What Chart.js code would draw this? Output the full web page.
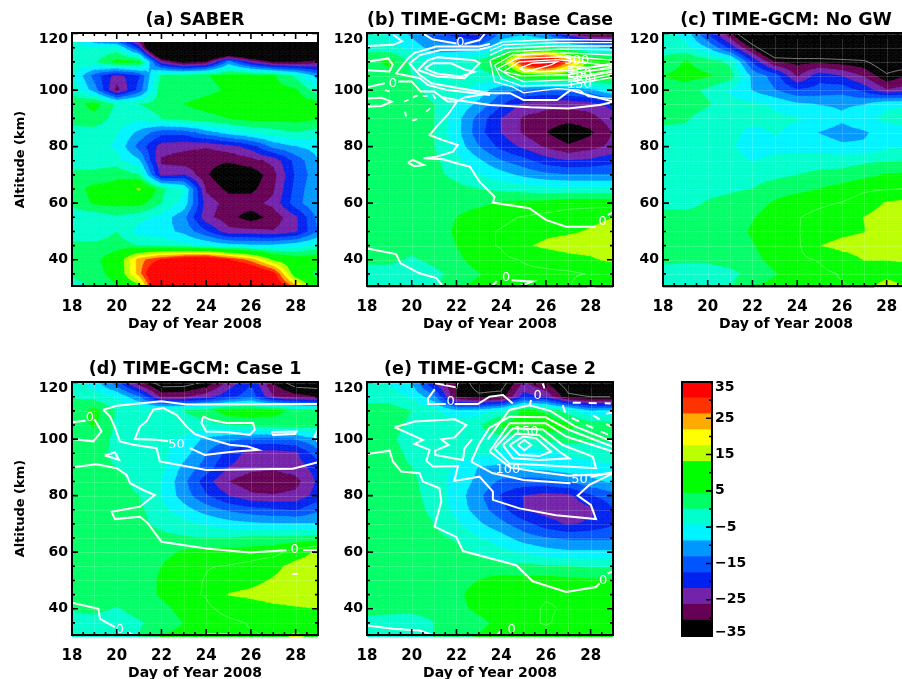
<!DOCTYPE html>
<html>
<head>
<meta charset="utf-8">
<title>Temperature anomaly panels</title>
<script src="https://cdn.jsdelivr.net/npm/chart.js@4"></script>
<style>
    html, body { margin: 0; padding: 0; background: #fff; overflow: hidden; }
    #page { position: relative; width: 902px; height: 679px; overflow: hidden; }
    canvas { position: absolute; }
</style>
</head>
<body>
<div id="page"></div>
<script>
// Axes
const days = [18, 19, 20, 21, 22, 23, 24, 25, 26, 27, 28, 29];
const altitudes = [120, 115, 110, 105, 100, 95, 90, 85, 80, 75, 70, 65, 60, 55, 50, 45, 40, 35, 30];
const saberAltitudes = [117, 115, 110, 105, 100, 95, 90, 85, 80, 75, 70, 65, 60, 55, 50, 45, 40, 35, 31];
const dayTicks = [18, 20, 22, 24, 26, 28];
const dayMinorTicks = [18.5, 19, 19.5, 20.5, 21, 21.5, 22.5, 23, 23.5, 24.5, 25, 25.5, 26.5, 27, 27.5, 28.5];
const altTicks = [40, 60, 80, 100, 120];
const altMinorTicks = [35, 45, 50, 55, 65, 70, 75, 85, 90, 95, 105, 110, 115];

// Colour bar
const bandEdges = [-35, -30.625, -26.25, -21.875, -17.5, -13.125, -8.75, -4.375, 0, 4.375, 8.75, 13.125, 17.5, 21.875, 26.25, 30.625, 35];
const bandColors = ['#000000', '#660055', '#7322aa', '#0022ee', '#0055ff', '#0098ff', '#00f4ff', '#00ffcc', '#00ff66', '#00ff00', '#00ff00', '#bbff00', '#ffff00', '#ffaa00', '#ff3300', '#ff0000'];
const barTicks = [35, 25, 15, 5, -5, -15, -25, -35];
const barMinorTicks = [30, 20, 10, 0, -10, -20, -30];

// Temperature values, one row per altitude, one column per day
const saberValues = [
    [-3, -10, -13, -27, -45, -45, -45, -45, -45, -45, -45, -45],
    [-3, -4, -3, -20, -60, -60, -60, -60, -60, -60, -60, -60],
    [-2, -1, 6, 5, -25, -34, -31, -12, -24, -32, -32, -28],
    [-3, -15, -24, -18, 1, 2, 4, 6, 6, 5, -1, -11],
    [-1, -11, -28, -16, 3, 2, 3, 5, 7, 6, 5, -3],
    [2, 6, -1, 0, 2, 4.4, 6, 7, 7, 7, 7, 6],
    [2, 3, -2, -3, 0, 2, 3, 4.4, 6, 6, 6, 5],
    [-2, -2, -4, -10, -16, -16, -11, -7, -4, -2, 0, -2],
    [-3, -3, -5, -15, -24, -25, -26, -24, -20, -12, -9, -7],
    [-2, -2, -3, -8, -27, -29, -29, -30, -28, -25, -16, -9],
    [1, 1, 3.5, 0, -24, -22, -30, -35, -34, -28, -17, -10],
    [2, 6, 6, 14, 1, -4, -27, -32, -32, -27, -16, -9],
    [1, 5, 6, 6, 0, -6, -24, -28, -28, -25, -15, -9],
    [-3, -3, -1, -3, -6, -12, -25, -29, -33, -29, -23, -12],
    [-3, -3, 0, -6, -7, -10, -17, -25, -25, -26, -23, -13],
    [1, 1, 2, 0, -1, -3, -5, -7, -8, -8, -6, -3],
    [2, 3, 8, 24, 31, 36, 38, 31, 24, 12, 7, 8],
    [1, 2, 7, 24, 45, 45, 45, 45, 42, 33, 8, 3],
    [-2, 1, 4, 13, 45, 45, 45, 45, 45, 38, 22, 5]
];
const baseValues = [
    [-3, -5, -10, -16, -20, -24, -12, -10, -14, -26, -33, -32],
    [-1, -3, -6, -11, -11, -11, -5, 0, 0, -2, -8, -10],
    [2, 6, -1, -5, -4, 1, 8, 35, 45, 26, 10, 7],
    [1, 2, 0, -3, -3, -2, 0, 8, 8, 8, 7, 6],
    [1, 1, 1, -1, -3, -6, -12, -13, -14, -13, -10, -4],
    [1, 1, 1, 0, -5, -10, -17, -23, -25, -25, -24, -20],
    [1, 1, 1, 0, -7, -15, -22, -27, -28, -29, -28, -24],
    [1, 1, 1, 0, -7, -16, -22, -27, -30.6, -34, -31.5, -26],
    [1, 1, 1, 0, -6, -13, -19, -23, -27, -30, -28, -25],
    [1, 1, 1, 1, -3, -8, -13, -16, -20, -21.9, -21, -19],
    [1, 1, 1, 1, -1, -4, -7, -10, -12, -13, -13, -13],
    [1.5, 1.5, 1.5, 2, 1, 0, -1, -2, -3, -3, -3, -3],
    [1.5, 1.5, 1.5, 1.5, 2, 3, 5, 5.5, 6, 7, 7, 7],
    [1.5, 1.5, 1.5, 1.5, 4.4, 7, 8, 9, 10, 11, 12, 13],
    [2, 2, 2, 2, 5, 8, 9, 10, 12, 12.5, 13.5, 15],
    [1, 1, 1, 2, 4.4, 8, 9, 12.5, 14, 15, 15, 16],
    [1, 1, -0.5, 1, 3, 7, 8, 9, 10, 11.5, 12.5, 14],
    [-2, -2, -3, -1, 1, 4, 7, 8, 8, 8, 9, 9],
    [-3, -3, -3, -1, 4, 6, 7, 8, 8, 8, 14, 10]
];
const noGwValues = [
    [-3, -6, -18, -30, -45, -45, -45, -45, -45, -45, -45, -45],
    [-2, -3, -9, -19, -32, -45, -45, -45, -45, -45, -45, -45],
    [1, 4.8, 2, -1, -18, -31, -32, -32, -33, -34, -40, -40],
    [4.4, 6, 5, 2, -10, -15, -27, -19, -22, -27, -34, -30],
    [2, 2, -1, -5, -9, -13, -17, -16, -15, -19, -26, -24],
    [2, 2, 0.5, -3, -3.5, -5, -8, -9, -9.5, -9, -5, -4.6],
    [1, 0.5, -2, -3, -3, -3.5, -4, -5.5, -8, -5, -3.5, -3.5],
    [-1, -1, -2, -3, -5.5, -4, -5.5, -9, -10.5, -9.5, -6, -5],
    [-2, -2, -2.5, -3.5, -7, -6, -6, -6.5, -8, -8, -5, -4.6],
    [-2, -2, -2, -2.5, -4.6, -3, -2.5, -2, -2, -1, -0.2, 0],
    [-2, -2, -2, -2, -1.5, -1, 0, 1, 1.5, 3, 4.8, 5],
    [-2, -2, -1, -0.5, 0, 2, 3, 4.4, 6, 8, 8.5, 9],
    [-1, -1, 0.3, 1, 2, 5, 7, 8, 9, 11, 13.5, 14.5],
    [1, 1, 1, 2, 4, 7, 8.5, 10, 11, 13.2, 15, 16],
    [2, 2, 2, 2, 5, 7.5, 8.5, 10.5, 12, 13, 15, 16],
    [2, 2, 1, 2, 4, 7, 8, 13, 14.5, 15, 16, 16],
    [1, 0.5, 0.5, 1.5, 3, 6, 8, 9, 11, 13.3, 13.3, 14],
    [-2, -2, -1.5, -1, 1, 4, 7, 8, 9, 9.5, 9.5, 9.5],
    [-3, -3, -3, -0.5, 5, 6, 7, 8, 8.5, 9, 18, 12]
];
const case1Values = [
    [-2, -7, -16, -30, -38, -38, -34, -25, -18, -31, -38, -38],
    [0, -2, -5, -13, -28, -27, -24, -19, -15, -26, -29, -31],
    [1, 6, -0.5, -1, -1, 0, 2.5, 7, 7, 6, 3, 2],
    [2, 5, -1, -2, -2, -2, -1.5, 0, 1, 2, 2, 1.5],
    [2, 2, -1, -3, -3, -5, -10, -12, -14, -14.5, -13, -9],
    [2, 1.5, -1, -2, -3, -7, -13, -19, -24, -24, -23, -15],
    [2, 1, 0, -1.5, -3, -10, -15, -22, -25, -25.5, -24, -20],
    [2, 1.5, 1, -1, -4.5, -12, -20, -26.4, -29, -29.5, -28, -21],
    [2, 2, 1, 0, -4.5, -11, -17, -22, -25.5, -26, -25, -20],
    [2, 2, 2, 1, -3, -7, -11, -14, -16, -17, -18, -14],
    [2, 2, 2, 1, -1, -3, -5, -7, -8, -8.5, -8.5, -8.5],
    [2, 2, 2, 1.5, 1, 0.5, 0, 0, 1, 1, 1, 2],
    [2, 2, 2, 2, 3, 5, 6, 6, 6.5, 7, 11, 14],
    [2, 2, 2, 2, 4.4, 7, 8.5, 9, 10, 12, 14.5, 15],
    [2, 2, 2, 2, 5, 7.5, 9, 11, 12, 13.5, 15, 16],
    [2, 2, 2, 2, 5, 8, 9, 13.3, 14, 15, 16, 16],
    [0.5, 1, -0.3, 1.5, 3, 6, 8, 10, 11, 12, 12.5, 13.2],
    [-2, -1.5, -2, -0.5, 1.5, 4.5, 7, 8, 9, 9, 9, 9],
    [-3, -3, -2, 0, 5, 6, 7, 8, 8.5, 9, 15, 10]
];
const case2Values = [
    [-3, -5, -9, -23, -31, -38, -38, -26, -31, -38, -40, -40],
    [-1, -2, -5, -12, -31, -34, -33, -20, -23, -34, -35, -35],
    [1, 2, 0, -3, -8, -7, -3, 5.5, 3.5, -2, -9, -8],
    [2, 2, -1, -1.5, -1.5, -0.5, 5, 7, 7, 5.5, 3, 2],
    [2, 1, -2, -3, -3, -2, -2, -3, 1, 2, 1, 0.5],
    [2, 1.5, -1, -3, -3, -3, -5, -6, -5.5, -4, -3, -2],
    [2, 1.5, 0, -2, -5, -9, -10, -8, -7, -6, -6, -5],
    [2, 2, 1, -2.5, -6, -10, -14, -15, -15, -13, -10, -8],
    [2, 2, 1, -1.5, -6.5, -12, -18, -22, -23.5, -23, -18, -15],
    [2, 2, 1.5, -1, -6, -11, -16, -22, -24, -25, -23, -18],
    [2, 2, 2, 0, -3.5, -8, -12, -16, -20, -22.5, -21, -18],
    [2, 2, 2, 1, -0.5, -4, -7, -11, -13, -14, -14, -14],
    [2, 2, 2, 2, 1, -0.5, -3, -5, -7, -8, -8, -8],
    [2, 2, 2, 2, 2, 2, 1.5, 1, 0.5, 0, -0.5, -0.5],
    [2, 2, 2, 2, 3, 4.4, 6, 6, 6, 5.5, 5, 5],
    [2, 2, 2, 2, 3.5, 6, 7, 8, 8.5, 8.5, 8, 7.5],
    [1, 1, 1, 1.5, 3, 5.5, 7, 8, 9, 8.5, 8, 7.5],
    [-1, -1.5, -2, 0, 1, 3, 6, 8, 9, 8, 8, 8],
    [-3, -3, -2.5, 0, 2, 5, 6, 7, 7.5, 7, 7, 7]
];

// White wind contours as [day, altitude] vertices
const baseLines = [
    [[20.55, 119.8], [20.95, 117.9], [22, 116.5]],
    [[22.36, 116.3], [23.03, 117.7], [23.26, 119.8]],
    [[19.17, 119.6], [19.57, 117.3], [19.17, 116], [18, 115.6]],
    [[18, 110], [18.95, 111.2], [19.15, 109], [19, 106.6], [18, 107]],
    [[18, 101], [18.8, 102.4]],
    [[19.4, 103], [20, 103], [20.4, 99.5], [21, 99.5], [21.6, 96], [22, 96], [22.4, 97.5], [23.5, 98.9]],
    [[18, 97], [18.65, 97.3], [19.1, 95.9], [18.65, 94.4], [18, 94.1]],
    [[20.58, 107.7], [20.95, 109.5], [21.77, 109.5], [22.36, 107.3], [22.81, 106.5], [22.2, 104.8], [21.1, 105.9], [20.58, 107.7]],
    [[20.28, 107.1], [20.73, 110.6], [21.17, 111.6], [22.81, 110.6], [23.03, 109.5], [22.36, 104.2], [21.1, 104.8], [20.28, 107.1]],
    [[23.5, 115.3], [23.03, 114.4], [21.3, 114.2], [20.36, 112.4], [19.9, 109.4], [20.36, 105.3], [20.88, 102.4], [22.2, 100.6], [23.5, 98.9]],
    [[23.5, 116.3], [23.03, 115.4], [21.1, 115.4], [20.13, 113.2], [19.83, 111.2], [19.3, 105.9], [20.36, 104.2], [20.73, 101.8], [21.6, 100], [23.5, 98.3]],
    [[21.4, 97.5], [22, 96.5], [23.5, 94.7], [25.3, 93.9], [27, 93.5], [28.4, 94.7], [29, 95.8]],
    [[22.06, 96.5], [21.87, 94.1], [21.6, 91.2], [21.17, 87.6], [20.8, 84.1], [21.39, 82.3], [22.06, 80.6], [21.84, 78.2], [21.1, 76.4], [20.53, 75.9], [21.4, 75.5], [22, 74.1], [22.6, 72.9], [23.03, 67.6], [23.7, 62.3], [23.63, 60.2], [25.26, 58.2], [26, 54.1], [26.9, 51.7], [28.24, 51.7]],
    [[28.76, 55.8], [29, 56.7]],
    [[19.83, 74.3], [20.05, 75.3], [20.53, 73.5], [20.13, 73.1], [19.83, 74.3]],
    [[18, 44], [19.3, 42], [19.5, 38.7], [20.35, 35.2], [21.1, 33.5], [21.4, 30.5]],
    [[23.55, 30], [23.8, 32.5]],
    [[24.45, 32.7], [25.4, 32.3], [24.7, 30.3]],
    [[23.5, 98.9], [24.4, 98.9], [25, 96.5], [26.5, 96.5], [27.1, 100], [28, 98], [29, 96]]
];
const baseThinLines = [
    [[23.5, 115.3], [24.1, 117.1], [26.5, 117.9], [29, 117.7]],
    [[23.5, 114], [24.1, 116], [26.5, 116.8], [29, 116.8]],
    [[23.5, 112.4], [24.2, 114.8], [26.5, 115.6], [29, 115.6]],
    [[23.5, 110.6], [24.4, 113.6], [26.7, 114.5], [29, 114.2]],
    [[23.7, 108.8], [24.5, 112.4], [26.9, 113.2], [29, 112.4]],
    [[23.85, 107.6], [24.7, 111.2], [27, 111.8], [29, 110.6]],
    [[24.1, 106.5], [24.8, 110], [26.5, 110.8], [28, 109.5], [29, 108.3]],
    [[24.8, 107.7], [25.4, 109.5], [26.5, 110], [26.2, 108.8], [25.1, 106.5], [24.8, 107.7]],
    [[23.85, 107.6], [24.4, 105], [25, 103], [27, 103.6], [29, 106.5]],
    [[24.1, 106.5], [24.9, 105], [27, 105.5], [29, 108.3]],
    [[24.8, 107.7], [25.6, 106.5], [27.2, 107], [29, 109.5]],
    [[23.7, 108.8], [24, 104], [24.9, 101.5], [27, 101.8], [29, 104.5]],
    [[23.5, 110.6], [23.7, 103], [24.5, 101.2], [25, 99], [26.5, 100.5], [27.5, 100], [27.9, 97.7], [29, 97]],
    [[27, 108.3], [28, 108], [29, 109]],
    [[27, 106.3], [28, 106.8], [29, 107.7]],
    [[27, 104.3], [28, 105.5], [29, 107]],
    [[27, 103], [28, 104], [29, 105.7]]
];
const baseDashes = [
    [[18.8, 100], [19.1, 99.4]],
    [[19.66, 95.9], [19.98, 97.1], [20.2, 98], [20.6, 97.9], [20.95, 98.3], [21.1, 96.5]],
    [[19.7, 92.4], [19.76, 90]],
    [[20.03, 89.2], [20.35, 90]],
    [[20.65, 92.4], [20.88, 93.9]]
];
const baseTexts = [
    ['0', 19.16, 102.4], ['0', 22.18, 116.8], ['0', 28.54, 53.5], ['0', 24.22, 33.5],
    ['300', 27.38, 110.6], ['250', 27.5, 106], ['200', 27.7, 104], ['150', 27.5, 102]
];

const case1Lines = [
    [[19.4, 110.4], [20, 111.8], [22, 113.4], [23.12, 112.2], [29, 112.4]],
    [[19.4, 110.4], [19.7, 108], [19.9, 104.5], [20.14, 99.2], [20.74, 98], [21.78, 96.8], [21.93, 92.1], [24, 89.1], [27.88, 89.5], [29, 91.8]],
    [[18, 106], [18.6, 106.5]],
    [[19, 107], [19.32, 102.7], [18.95, 99.2], [18, 100]],
    [[18, 90], [19.1, 91.1], [20, 89.7], [20.44, 87.3], [20.6, 84.4], [21.18, 82], [21.7, 80.2], [21.04, 76.1], [19.77, 74.3], [19.92, 71.7], [21.04, 72.5], [21.4, 70.2], [21.78, 66], [22, 63.7], [24, 61.3], [25.95, 59.9], [27.58, 60.7]],
    [[28.33, 60.7], [29, 60.7]],
    [[19.47, 94.2], [19.92, 95.3], [20.1, 92.7], [19.47, 94.2]],
    [[22.3, 99.2], [21.78, 99.8], [20.81, 100], [21.04, 104.5], [21.33, 106.3], [21.63, 110.4], [22.08, 111], [22.67, 108.6], [23.12, 104.5], [23.49, 101.8], [24, 100.4], [25.05, 98], [25.87, 97.4], [26.32, 96.2], [25.05, 95.4], [23.94, 94.4], [23.27, 96.8]],
    [[23.86, 108], [24.16, 106.9], [24.9, 105.7], [26.1, 105.7], [26.17, 103.3], [25.95, 101.5], [24.9, 102.5], [24, 102.7], [23.79, 105.7], [23.86, 108]],
    [[26.91, 102.5], [28.03, 102.7], [27.96, 101.8], [26.99, 101.5], [26.91, 102.5]],
    [[29, 103.3], [28.85, 101], [29, 98.9]],
    [[18, 42.1], [19.18, 40], [19.25, 36.4], [19.92, 33.5]],
    [[20.51, 31.7], [20.81, 30.3]],
    [[24, 30.9], [25.1, 30.9]],
    [[27.85, 52.3], [28.1, 52.3]]
];
const case1Texts = [['0', 18.8, 107.5], ['50', 22.67, 98.2], ['0', 27.96, 60.9], ['0', 20.14, 32.6]];

const case2Lines = [
    [[20.95, 119.9], [22, 118.3], [22.05, 119.9]],
    [[21.03, 117.6], [20.73, 114.4], [20.73, 112.4], [21.52, 112.4]],
    [[21.92, 112.4], [22.96, 112.4], [23.48, 115], [24.08, 115.6], [24.52, 112.6]],
    [[25.27, 112], [25.34, 113.8]],
    [[25.94, 117.9], [25.86, 119.7]],
    [[19.24, 104.2], [20.13, 106.2], [21.92, 107], [22.44, 105], [21.92, 100.6], [21.32, 99.9], [21.65, 97.9], [21.05, 95.9], [21.05, 94.4], [22.29, 92.6], [22.36, 96.7], [22.7, 100]],
    [[19.24, 104.2], [20.5, 99.7], [20.13, 98.3], [20.8, 96.2], [20.65, 92.3], [20.95, 90.3], [22.07, 90.5], [21.93, 86.1], [21.91, 85.2], [23.03, 86.7], [23.63, 81.4], [23.63, 78.5], [24.82, 75.5], [26.45, 73.1], [28.24, 71.7], [28.01, 76.7], [27.42, 80], [27.94, 83.8], [29, 87.9]],
    [[18, 94.7], [19.01, 95.9], [19.16, 92.1], [19.53, 88.5], [20.35, 87.9], [20.5, 85], [21.24, 82.6], [21.32, 77.9], [21.02, 69], [21.99, 65.4], [22.29, 60.4], [24.67, 55.4], [25.41, 49.7], [26.9, 45.9], [28.24, 47.7], [28.4, 49]],
    [[28.76, 52.4], [29, 53.3]],
    [[24.74, 97.9], [25.04, 99.7], [25.34, 97.9], [25.04, 96.1], [24.74, 97.9]],
    [[24.37, 97.9], [24.97, 100.9], [25.56, 100.3], [26.23, 95.6], [25.71, 94], [24.82, 94.4], [24.37, 97.9]],
    [[24.08, 97.9], [24.67, 102], [25.71, 101.4], [26.6, 95.6], [27.05, 93.2], [25.71, 92.6], [24.52, 93.2], [24.08, 97.9]],
    [[23.7, 96.7], [24.52, 103.8], [25.86, 103.4], [26.75, 97.9], [28.1, 93.8], [28.24, 89.7], [25.71, 90.8], [24.37, 91.4], [23.7, 96.7]],
    [[23.48, 95.6], [24.37, 105.6], [25.99, 105.6], [26.9, 100.9], [29, 95.6]],
    [[23.48, 95.6], [24.4, 90], [25.5, 88.5], [27, 87], [28.3, 87.5], [29, 88]],
    [[22.66, 92], [23.03, 98.5], [23.48, 104], [24.37, 107.9], [25.99, 107.7], [27.05, 103.2], [29, 97.3]],
    [[22.66, 92], [23.6, 88], [25, 85.5], [27.1, 84.4]],
    [[28, 86.6], [29, 88.3]],
    [[23.4, 100], [24.37, 110.3], [25.27, 112], [26.2, 110], [27.3, 104.5], [29, 99]],
    [[18, 34.1], [19.16, 32.9], [20.35, 32.3], [21.1, 30.3]],
    [[23.77, 30.3], [24, 32.3]],
    [[24.82, 30.8], [25.33, 30.3]]
];
const case2Dashes = [
    [[27.2, 112.9], [28.9, 112.6]],
    [[26.75, 112], [26.85, 109.7], [27.2, 107.3], [27.8, 105], [28.8, 101.5]],
    [[28.1, 108.5], [28.9, 104.4]],
    [[28.7, 109], [29, 109.5]]
];
const case2Texts = [
    ['0', 21.74, 113.2], ['0', 25.63, 115.5], ['0', 28.56, 49.8], ['0', 24.47, 32.6],
    ['150', 25.12, 102.6], ['100', 24.3, 89.1], ['50', 27.5, 85.6]
];

const uiFont = '"DejaVu Sans", sans-serif';
const page = document.getElementById('page');
const SUBCELLS = 4;

// Clip a polygon of {x, y, v} corners against one value limit
function clipByValue(pts, limit, keepAbove) {
    const out = [];
    pts.forEach((p, i) => {
        const q = pts[(i + 1) % pts.length];
        const pIn = keepAbove ? p.v >= limit : p.v <= limit;
        const qIn = keepAbove ? q.v >= limit : q.v <= limit;
        if (pIn) out.push(p);
        if (pIn !== qIn) {
            const t = (limit - p.v) / (q.v - p.v);
            out.push({ x: p.x + (q.x - p.x) * t, y: p.y + (q.y - p.y) * t, v: limit });
        }
    });
    return out;
}

function fillBands(ctx, tri) {
    bandColors.forEach((color, b) => {
        let poly = tri;
        if (b > 0) poly = clipByValue(poly, bandEdges[b], true);
        if (poly.length && b < bandColors.length - 1) poly = clipByValue(poly, bandEdges[b + 1], false);
        if (poly.length < 3) return;
        ctx.beginPath();
        poly.forEach((p, i) => i ? ctx.lineTo(p.x, p.y) : ctx.moveTo(p.x, p.y));
        ctx.closePath();
        ctx.fillStyle = color;
        ctx.strokeStyle = color;
        ctx.lineWidth = 0.6;
        ctx.fill();
        ctx.stroke();
    });
}

// Thin line where a triangle crosses one level
function traceLevel(ctx, tri, level) {
    const hits = [];
    tri.forEach((p, i) => {
        const q = tri[(i + 1) % 3];
        if ((p.v < level) !== (q.v < level)) {
            const t = (level - p.v) / (q.v - p.v);
            hits.push([p.x + (q.x - p.x) * t, p.y + (q.y - p.y) * t]);
        }
    });
    if (hits.length === 2) {
        ctx.moveTo(hits[0][0], hits[0][1]);
        ctx.lineTo(hits[1][0], hits[1][1]);
    }
}

// Filled contours drawn from the value grid through the chart's scales
const contourPlugin = {
    id: 'contourFill',
    beforeDatasetsDraw(chart, args, opts) {
        if (!opts.values) return;
        const { ctx, chartArea, scales: { x, y } } = chart;
        const rows = opts.rows;
        const tris = [];
        for (let r = 0; r < rows.length - 1; r++) {
            for (let c = 0; c < days.length - 1; c++) {
                const x0 = x.getPixelForValue(days[c]), x1 = x.getPixelForValue(days[c + 1]);
                const y0 = y.getPixelForValue(rows[r]), y1 = y.getPixelForValue(rows[r + 1]);
                const v = opts.values;
                // smooth shading inside the cell, for the drawing only
                const at = (i, j) => {
                    const s = i / SUBCELLS, t = j / SUBCELLS;
                    return {
                        x: x0 + (x1 - x0) * s,
                        y: y0 + (y1 - y0) * t,
                        v: (1 - t) * ((1 - s) * v[r][c] + s * v[r][c + 1]) + t * ((1 - s) * v[r + 1][c] + s * v[r + 1][c + 1])
                    };
                };
                for (let i = 0; i < SUBCELLS; i++) {
                    for (let j = 0; j < SUBCELLS; j++) {
                        const a = at(i, j), b = at(i + 1, j), d = at(i + 1, j + 1), e = at(i, j + 1);
                        tris.push([a, b, d], [a, d, e]);
                    }
                }
            }
        }
        ctx.save();
        ctx.beginPath();
        const top = y.getPixelForValue(rows[0]), bottom = y.getPixelForValue(rows[rows.length - 1]);
        ctx.rect(chartArea.left, top, chartArea.width, bottom - top);
        ctx.clip();
        tris.forEach(t => fillBands(ctx, t));

        // faint seams of the original plot
        if (opts.seams) {
            ctx.strokeStyle = 'rgba(255,255,255,0.16)';
            ctx.lineWidth = 1;
            ctx.beginPath();
            days.forEach(d => {
                const px = Math.round(x.getPixelForValue(d)) + 0.5;
                ctx.moveTo(px, chartArea.top);
                ctx.lineTo(px, chartArea.bottom);
            });
            rows.forEach(a => {
                const py = Math.round(y.getPixelForValue(a)) + 0.5;
                ctx.moveTo(chartArea.left, py);
                ctx.lineTo(chartArea.right, py);
            });
            ctx.stroke();
            ctx.strokeStyle = 'rgba(255,255,255,0.3)';
            ctx.beginPath();
            tris.forEach(t => traceLevel(ctx, t, 8.75));
            ctx.stroke();
            ctx.strokeStyle = 'rgba(170,170,170,0.7)';
            ctx.beginPath();
            tris.forEach(t => traceLevel(ctx, t, -35));
            ctx.stroke();
        }
        ctx.restore();
    },
    afterDatasetsDraw(chart, args, opts) {
        if (!opts.values) return;
        const { ctx, scales: { x, y } } = chart;
        ctx.save();
        ctx.fillStyle = '#fff';
        ctx.font = '13px ' + uiFont;
        ctx.textAlign = 'center';
        ctx.textBaseline = 'middle';
        (opts.texts || []).forEach(t => ctx.fillText(t[0], x.getPixelForValue(t[1]), y.getPixelForValue(t[2])));
        ctx.restore();
    }
};

// Box and inward tick marks on all four sides
const framePlugin = {
    id: 'plotFrame',
    afterDraw(chart, args, opts) {
        const { ctx, chartArea: a, scales: { x, y } } = chart;
        ctx.save();
        ctx.strokeStyle = '#000';
        ctx.lineWidth = 1.6;
        ctx.beginPath();
        const vTick = (v, len) => {
            const py = y.getPixelForValue(v);
            if (opts.leftTicks !== false) { ctx.moveTo(a.left, py); ctx.lineTo(a.left + len, py); }
            ctx.moveTo(a.right, py); ctx.lineTo(a.right - len, py);
        };
        const hTick = (v, len) => {
            const px = x.getPixelForValue(v);
            ctx.moveTo(px, a.bottom); ctx.lineTo(px, a.bottom - len);
            ctx.moveTo(px, a.top); ctx.lineTo(px, a.top + len);
        };
        (opts.yMajor || []).forEach(v => vTick(v, 6));
        (opts.yMinor || []).forEach(v => vTick(v, 3));
        (opts.xMajor || []).forEach(v => hTick(v, 6));
        (opts.xMinor || []).forEach(v => hTick(v, 3));
        ctx.stroke();
        ctx.lineWidth = 2;
        ctx.strokeRect(a.left, a.top, a.width, a.height);

        // end labels sit inside the axis ends in the original
        ctx.fillStyle = '#000';
        ctx.font = 'bold 14px ' + uiFont;
        ctx.textBaseline = 'middle';
        (opts.shifted || []).forEach(s => {
            ctx.textAlign = s.align;
            ctx.fillText(s.text, s.align === 'right' ? a.left - 4 : a.right + 3, y.getPixelForValue(s.value) + s.dy);
        });
        ctx.restore();
    }
};

function lineDatasets(lines, width, dash) {
    return lines.map(line => ({
        data: line.map(p => ({ x: p[0], y: p[1] })),
        showLine: true,
        pointRadius: 0,
        borderColor: '#ffffff',
        borderWidth: width,
        borderDash: dash || [],
        tension: 0
    }));
}

function makePanel(cfg) {
    const leftMargin = cfg.yTitle ? 72 : 40;
    const canvas = document.createElement('canvas');
    canvas.width = leftMargin + 246 + 4;
    canvas.height = 33 + 253 + 49;
    canvas.style.left = (cfg.left - leftMargin) + 'px';
    canvas.style.top = (cfg.top - 33) + 'px';
    page.appendChild(canvas);

    new Chart(canvas, {
        type: 'scatter',
        data: { datasets: cfg.datasets || [] },
        plugins: [contourPlugin, framePlugin],
        options: {
            responsive: false,
            animation: false,
            layout: { padding: { right: 4, left: 0, top: 0, bottom: 0 } },
            scales: {
                x: {
                    type: 'linear',
                    min: 18,
                    max: 29,
                    afterBuildTicks: s => { s.ticks = dayTicks.map(v => ({ value: v })); },
                    afterFit: s => { s.height = 49; },
                    grid: { display: false, drawTicks: false },
                    border: { display: false },
                    ticks: { color: '#000', padding: 12, maxRotation: 0, autoSkip: false, font: { family: uiFont, size: 15, weight: 'bold' } },
                    title: { display: true, text: 'Day of Year 2008', color: '#000', padding: { top: 0, bottom: 2 }, font: { family: uiFont, size: 14, weight: 'bold' } }
                },
                y: {
                    type: 'linear',
                    min: 30.7,
                    max: 120.2,
                    afterBuildTicks: s => { s.ticks = altTicks.map(v => ({ value: v })); },
                    afterFit: s => { s.width = leftMargin; },
                    grid: { display: false, drawTicks: false },
                    border: { display: false },
                    ticks: { color: '#000', padding: 4, autoSkip: false, font: { family: uiFont, size: 14, weight: 'bold' }, callback: v => (v === 120 ? '' : v) },
                    title: { display: !!cfg.yTitle, text: 'Altitude (km)', color: '#000', padding: { top: 13, bottom: 0 }, font: { family: uiFont, size: 13, weight: 'bold' } }
                }
            },
            plugins: {
                legend: { display: false },
                tooltip: { enabled: false },
                title: {
                    display: true,
                    text: cfg.title,
                    color: '#000',
                    fullSize: false,
                    padding: { top: 11.5, bottom: 4 },
                    font: { family: uiFont, size: 17.5, weight: 'bold', lineHeight: 1 }
                },
                contourFill: { values: cfg.values, rows: cfg.rows || altitudes, texts: cfg.texts, seams: cfg.seams },
                plotFrame: {
                    xMajor: dayTicks, xMinor: dayMinorTicks, yMajor: altTicks, yMinor: altMinorTicks,
                    shifted: [{ text: '120', value: 120, dy: 6, align: 'right' }]
                }
            }
        }
    });
}

function makeColorBar(left, top) {
    const canvas = document.createElement('canvas');
    canvas.width = 30 + 40;
    canvas.height = 254 + 8;
    canvas.style.left = left + 'px';
    canvas.style.top = (top - 4) + 'px';
    page.appendChild(canvas);

    new Chart(canvas, {
        type: 'bar',
        data: {
            labels: [''],
            datasets: bandColors.map((color, i) => ({
                data: [[bandEdges[i], bandEdges[i + 1]]],
                backgroundColor: color,
                borderWidth: 0,
                barPercentage: 1,
                categoryPercentage: 1,
                grouped: false
            }))
        },
        plugins: [framePlugin],
        options: {
            responsive: false,
            animation: false,
            layout: { autoPadding: false, padding: { top: 4, bottom: 4, left: 1 } },
            scales: {
                x: { display: false },
                y: {
                    position: 'right',
                    min: -35,
                    max: 35,
                    afterBuildTicks: s => { s.ticks = barTicks.map(v => ({ value: v })); },
                    afterFit: s => { s.width = 39; s.paddingTop = 0; s.paddingBottom = 0; },
                    grid: { display: false, drawTicks: false },
                    border: { display: false },
                    ticks: { color: '#000', padding: 3, autoSkip: false, font: { family: uiFont, size: 14, weight: 'bold' }, callback: v => (Math.abs(v) === 35 ? '' : String(v).replace('-', '\u2212')) }
                }
            },
            plugins: {
                legend: { display: false },
                tooltip: { enabled: false },
                plotFrame: {
                    leftTicks: false,
                    yMajor: barTicks, yMinor: barMinorTicks,
                    shifted: [
                        { text: '35', value: 35, dy: 5, align: 'left' },
                        { text: '\u221235', value: -35, dy: -4, align: 'left' }
                    ]
                }
            }
        }
    });
}

makePanel({ title: '(a) SABER', left: 72, top: 33, yTitle: true, values: saberValues, rows: saberAltitudes });
makePanel({
    title: '(b) TIME-GCM: Base Case', left: 367, top: 33, values: baseValues, seams: true, texts: baseTexts,
    datasets: lineDatasets(baseLines, 2).concat(lineDatasets(baseThinLines, 1.3), lineDatasets(baseDashes, 1.8, [5, 5]))
});
makePanel({ title: '(c) TIME-GCM: No GW', left: 663, top: 33, values: noGwValues, seams: true });
makePanel({
    title: '(d) TIME-GCM: Case 1', left: 72, top: 382, yTitle: true, values: case1Values, seams: true, texts: case1Texts,
    datasets: lineDatasets(case1Lines, 2)
});
makePanel({
    title: '(e) TIME-GCM: Case 2', left: 367, top: 382, values: case2Values, seams: true, texts: case2Texts,
    datasets: lineDatasets(case2Lines, 2).concat(lineDatasets(case2Dashes, 2, [8, 8]))
});
makeColorBar(681, 382);
</script>
</body>
</html>
